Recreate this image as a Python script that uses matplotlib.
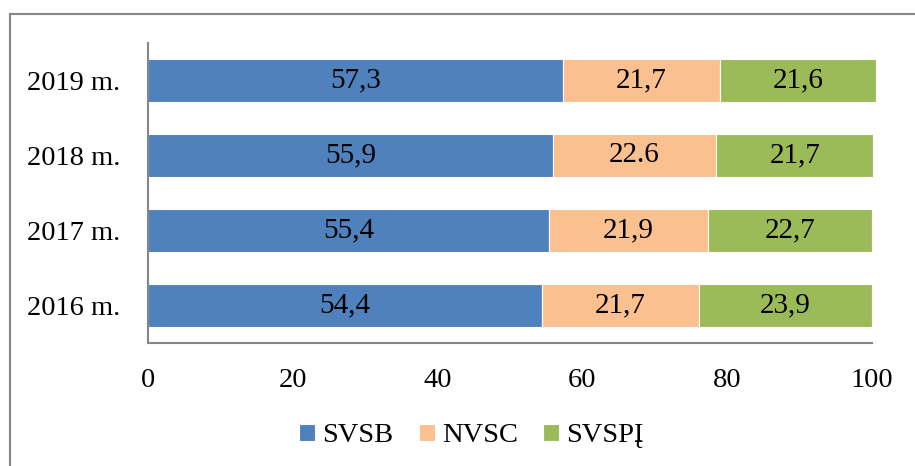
import matplotlib
matplotlib.use("Agg")
import matplotlib.pyplot as plt
from matplotlib.lines import Line2D
import numpy as np

plt.rcParams['font.family'] = ['Liberation Serif', 'DejaVu Serif']

years = ["2016 m.", "2017 m.", "2018 m.", "2019 m."]
series_names = ["SVSB", "NVSC", "SVSPĮ"]
svsb = [54.4, 55.4, 55.9, 57.3]
nvsc = [21.7, 21.9, 22.6, 21.7]
svspi = [23.9, 22.7, 21.7, 21.6]
svsb_labels = ["54,4", "55,4", "55,9", "57,3"]
nvsc_labels = ["21,7", "21,9", "22.6", "21,7"]
svspi_labels = ["23,9", "22,7", "21,7", "21,6"]
xticks = [0, 20, 40, 60, 80, 100]

colors = ["#4F81BD", "#FAC090", "#9BBB59"]

fig = plt.figure(figsize=(9.15, 4.66), dpi=100)
ax = fig.add_axes([148/915, 1 - 343/466, (872 - 148)/915, 300/466])

y = np.arange(len(years))
left = np.zeros(len(years))
for vals, labs, col, name in zip([svsb, nvsc, svspi],
                                 [svsb_labels, nvsc_labels, svspi_labels],
                                 colors, series_names):
    bars = ax.barh(y, vals, left=left, height=0.57, color=col,
                   edgecolor="white", linewidth=0.8, label=name)
    for b, lab in zip(bars, labs):
        b.set_clip_on(False)
        ax.text(b.get_x() + b.get_width() / 2, b.get_y() + b.get_height() / 2,
                lab, ha="center", va="center", fontsize=21, color="black")
    left = left + np.array(vals)

ax.set_xlim(0, 100)
ax.set_ylim(-0.5, 3.5)
ax.set_xticks(xticks)
ax.set_xticklabels([str(t) for t in xticks], fontsize=20.5)
ax.set_yticks(y)
ax.set_yticklabels(years, fontsize=20.5)
ax.tick_params(axis="both", length=0)
ax.tick_params(axis="x", pad=18)
ax.tick_params(axis="y", pad=20)
for s in ["top", "right"]:
    ax.spines[s].set_visible(False)
for s in ["left", "bottom"]:
    ax.spines[s].set_color("#868686")
    ax.spines[s].set_linewidth(1.5)

leg = fig.legend(loc="center", bbox_to_anchor=(471.5/915, 1 - 436/466), ncol=3,
                 frameon=False, fontsize=20.5, handlelength=0.55, handleheight=0.55,
                 handletextpad=0.25, columnspacing=0.9)

# outer chart border (left and top only visible)
fig.add_artist(Line2D([9.5/915, 9.5/915], [0, 1 - 14/466], transform=fig.transFigure,
                      color="#868686", linewidth=1.5))
fig.add_artist(Line2D([9.5/915, 1], [1 - 14/466, 1 - 14/466], transform=fig.transFigure,
                      color="#868686", linewidth=1.5))

fig.savefig("out.png", dpi=100)
